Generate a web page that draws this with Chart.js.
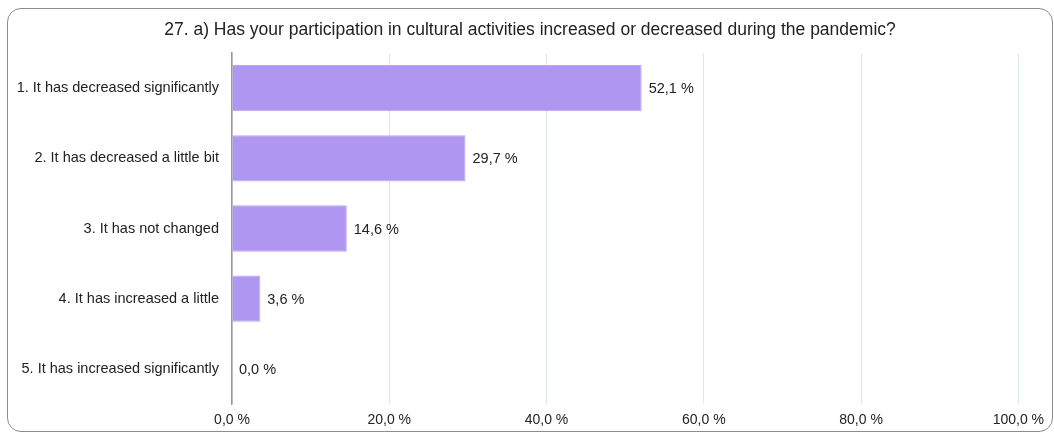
<!DOCTYPE html>
<html>
<head>
<meta charset="utf-8">
<script src="https://cdn.jsdelivr.net/npm/chart.js@4/dist/chart.umd.min.js"></script>
<style>
  html, body { margin: 0; padding: 0; background: #fff; }
  body { width: 1054px; height: 433px; position: relative; overflow: hidden; }
  .frame {
    position: absolute; left: 7px; top: 8px;
    width: 1044px; height: 422px;
    border: 1px solid #8c8c8c; border-radius: 14px;
    overflow: hidden;
  }
  canvas { display: block; }
</style>
</head>
<body>
<div class="frame"><canvas id="chart" width="1044" height="422"></canvas></div>
<script>
// Survey answers and their shares (%)
const answers = [
  '1. It has decreased significantly',
  '2. It has decreased a little bit',
  '3. It has not changed',
  '4. It has increased a little',
  '5. It has increased significantly'
];
const shares = [52.1, 29.7, 14.6, 3.6, 0.0];
const axisTicks = [0, 20, 40, 60, 80, 100];

const FONT = '"Liberation Sans", Arial, Helvetica, sans-serif';

function pct(v) {
  return v.toFixed(1).replace('.', ',') + ' %';
}

// writes the value just past the end of each bar
const barValues = {
  id: 'barValues',
  afterDatasetsDraw(chart) {
    const ctx = chart.ctx;
    const meta = chart.getDatasetMeta(0);
    ctx.save();
    ctx.font = '14.5px ' + FONT;
    ctx.fillStyle = '#222';
    ctx.textAlign = 'left';
    ctx.textBaseline = 'middle';
    meta.data.forEach((bar, i) => {
      ctx.fillText(pct(shares[i]), bar.x + 7, bar.y + 1);
    });
    ctx.restore();
  }
};

// centre the title across the whole canvas, not just the padded box
const wideTitle = {
  id: 'wideTitle',
  afterLayout(chart) {
    const t = chart.titleBlock;
    if (!t) return;
    t.left = 0;
    t.right = chart.width;
    t.width = chart.width;
  }
};

new Chart(document.getElementById('chart'), {
  type: 'bar',
  data: {
    labels: answers,
    datasets: [{
      data: shares,
      backgroundColor: '#af96f0',
      borderColor: '#bba7f3',
      borderWidth: 1,
      barPercentage: 0.66,
      categoryPercentage: 1
    }]
  },
  options: {
    indexAxis: 'y',
    responsive: false,
    animation: false,
    layout: { padding: { left: 0, right: 33, top: 0, bottom: 0 } },
    plugins: {
      legend: { display: false },
      tooltip: { enabled: false },
      title: {
        display: true,
        text: '27. a) Has your participation in cultural activities increased or decreased during the pandemic?',
        color: '#222',
        font: { family: FONT, size: 17.5, weight: 'normal' },
        padding: { top: 11, bottom: 12 }
      }
    },
    scales: {
      x: {
        min: 0,
        max: 100,
        afterBuildTicks(scale) {
          scale.ticks = axisTicks.map(v => ({ value: v }));
        },
        afterFit(scale) { scale.height = 27; },
        grid: { color: '#dfe7f1', lineWidth: 1, drawTicks: false },
        border: { display: false },
        ticks: {
          padding: 8,
          color: '#222',
          font: { family: FONT, size: 14 },
          callback: v => pct(v)
        }
      },
      y: {
        afterFit(scale) { scale.width = 224; },
        grid: { display: false },
        border: { display: true, color: '#9a9a9a', width: 1.5 },
        ticks: {
          padding: 5,
          color: '#222',
          font: { family: FONT, size: 14.5 }
        }
      }
    }
  },
  plugins: [barValues, wideTitle]
});
</script>
</body>
</html>
